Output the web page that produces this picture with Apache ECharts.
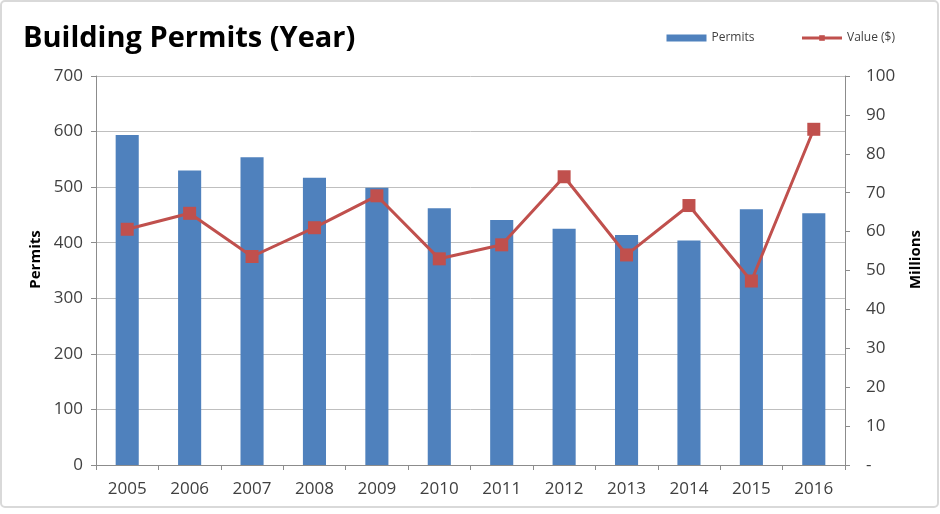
<!DOCTYPE html>
<html>
<head>
<meta charset="utf-8">
<script src="https://cdn.jsdelivr.net/npm/echarts@6/dist/echarts.min.js"></script>
<style>
  html, body { margin: 0; padding: 0; background: #fff; }
  #chart { width: 940px; height: 514px; }
</style>
</head>
<body>
<div id="chart"></div>
<script>
// Yearly building permits and their total value
const years = ['2005', '2006', '2007', '2008', '2009', '2010', '2011', '2012', '2013', '2014', '2015', '2016'];
const permits = [594, 530, 554, 517, 499, 462, 441, 425, 414, 404, 460, 453];
const valueMillions = [60.6, 64.7, 53.6, 61.0, 69.2, 53.0, 56.6, 74.1, 54.0, 66.7, 47.3, 86.3];

const font = '"Open Sans", "Noto Sans", sans-serif';
const labelColor = '#404040';
const axisGray = '#8c8c8c';

const chart = echarts.init(document.getElementById('chart'));
chart.setOption({
  animation: false,
  backgroundColor: '#ffffff',
  title: {
    text: 'Building Permits (Year)',
    left: 18,
    top: 19,
    textStyle: { fontFamily: font, fontWeight: 'bold', fontSize: 29, color: '#000' }
  },
  legend: {
    top: 27,
    right: 40,
    itemGap: 46,
    itemWidth: 40,
    itemHeight: 7,
    textStyle: { fontFamily: font, fontSize: 12, color: '#404040' },
    data: [
      { name: 'Permits', icon: 'rect', itemStyle: { color: '#4f81bd' } },
      { name: 'Value ($)', lineStyle: { width: 3, color: '#c0504d' } }
    ]
  },
  grid: { left: 96, right: 95, top: 76, bottom: 49 },
  xAxis: {
    type: 'category',
    data: years,
    axisLine: { lineStyle: { color: axisGray, width: 1 } },
    axisTick: { show: true, length: 5, alignWithLabel: false, lineStyle: { color: axisGray } },
    axisLabel: { fontFamily: font, fontSize: 17, color: labelColor, margin: 16 }
  },
  yAxis: [
    {
      type: 'value',
      min: 0, max: 700, interval: 100,
      name: 'Permits',
      nameLocation: 'middle',
      nameRotate: 90,
      nameGap: 53,
      nameTextStyle: { fontFamily: font, fontWeight: 'bold', fontSize: 15, color: '#000', padding: [0, 0, 0, 22] },
      axisLine: { show: true, lineStyle: { color: axisGray } },
      axisTick: { show: true, length: 5, lineStyle: { color: axisGray } },
      axisLabel: { fontFamily: font, fontSize: 17, color: labelColor, margin: 13 },
      splitLine: { lineStyle: { color: '#bfbfbf', width: 1 } }
    },
    {
      type: 'value',
      min: 0, max: 100, interval: 10,
      name: 'Millions',
      nameLocation: 'middle',
      nameRotate: 90,
      nameGap: 63,
      nameTextStyle: { fontFamily: font, fontWeight: 'bold', fontSize: 15, color: '#000', padding: [0, 0, 0, 22] },
      axisLine: { show: true, lineStyle: { color: axisGray } },
      axisTick: { show: true, length: 5, lineStyle: { color: axisGray } },
      axisLabel: {
        fontFamily: font, fontSize: 17, color: labelColor, margin: 21,
        formatter: v => (v === 0 ? '-' : String(v))
      },
      splitLine: { show: false }
    }
  ],
  series: [
    {
      name: 'Permits',
      type: 'bar',
      yAxisIndex: 0,
      data: permits,
      barWidth: '37%',
      itemStyle: { color: '#4f81bd' }
    },
    {
      name: 'Value ($)',
      type: 'line',
      yAxisIndex: 1,
      data: valueMillions,
      symbol: 'rect',
      symbolSize: 13,
      lineStyle: { color: '#c0504d', width: 3 },
      itemStyle: { color: '#c0504d' }
    }
  ],
  graphic: [
    {
      type: 'rect',
      shape: { x: 1, y: 1, width: 937, height: 506, r: 4 },
      style: { fill: 'none', stroke: '#d9d9d9', lineWidth: 2 },
      silent: true
    }
  ]
});
</script>
</body>
</html>
